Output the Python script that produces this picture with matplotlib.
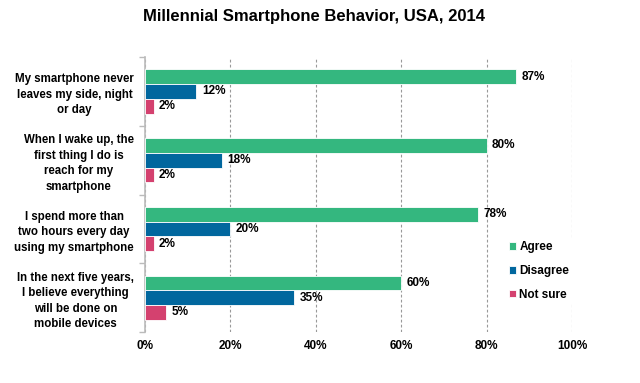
import matplotlib.pyplot as plt
import numpy as np

plt.rcParams['font.family'] = ['Liberation Sans', 'DejaVu Sans']

statements = [
    "My smartphone never\nleaves my side, night\nor day",
    "When I wake up, the\nfirst thing I do is\nreach for my\nsmartphone",
    "I spend more than\ntwo hours every day\nusing my smartphone",
    "In the next five years,\nI believe everything\nwill be done on\nmobile devices",
]
agree = [87, 80, 78, 60]
disagree = [12, 18, 20, 35]
not_sure = [2, 2, 2, 5]
series_names = ["Agree", "Disagree", "Not sure"]
colors = ["#34b77f", "#01679e", "#d4416f"]
xticks = [0, 20, 40, 60, 80, 100]

fig = plt.figure(figsize=(6.4, 3.83), dpi=100)
ax = fig.add_axes([0.2266, 0.133, 0.667, 0.718])

y = np.arange(len(statements))
h = 0.215
for i, (vals, name, c) in enumerate(zip([agree, disagree, not_sure], series_names, colors)):
    pos = y + (i - 1) * h
    ax.barh(pos, vals, height=h, color=c, edgecolor='white', linewidth=0.6, label=name, zorder=3)
    for p, v in zip(pos, vals):
        ax.text(v + 1.3, p, f"{v}%", va='center', ha='left', fontsize=8.5, fontweight='bold', zorder=4)

ax.set_xlim(0, 100)
ax.set_ylim(len(statements) - 0.5, -0.5)
ax.set_xticks(xticks)
ax.set_xticklabels([f"{t}%" for t in xticks], fontsize=8.5, fontweight='bold')
ax.tick_params(axis='x', length=0, pad=6)
ax.xaxis.grid(True, linestyle=(0, (2.5, 2)), color='#999999', linewidth=0.8, zorder=0)

ax.set_yticks(y)
ax.set_yticklabels(statements, fontsize=8.3, fontweight='bold', ha='right', multialignment='center',
                   linespacing=1.4)
ax.tick_params(axis='y', which='major', length=0, pad=8)
ax.set_yticks(np.arange(len(statements) + 1) - 0.5, minor=True)
ax.tick_params(axis='y', which='minor', length=4, color='#bbbbbb', width=1)

for s in ['top', 'right', 'bottom']:
    ax.spines[s].set_visible(False)
ax.spines['left'].set_color('#bbbbbb')
ax.spines['left'].set_linewidth(1.2)

leg = ax.legend(loc='upper left', bbox_to_anchor=(0.83, 0.365), frameon=True, framealpha=1,
                edgecolor='none', handlelength=0.6, handleheight=0.6, handletextpad=0.3,
                labelspacing=1.0, borderpad=0.3, prop={'weight': 'bold', 'size': 8.5})

fig.text(0.49, 0.957, "Millennial Smartphone Behavior, USA, 2014", ha='center', va='center',
         fontsize=12, fontweight='bold')

fig.savefig("out.png", dpi=100)
